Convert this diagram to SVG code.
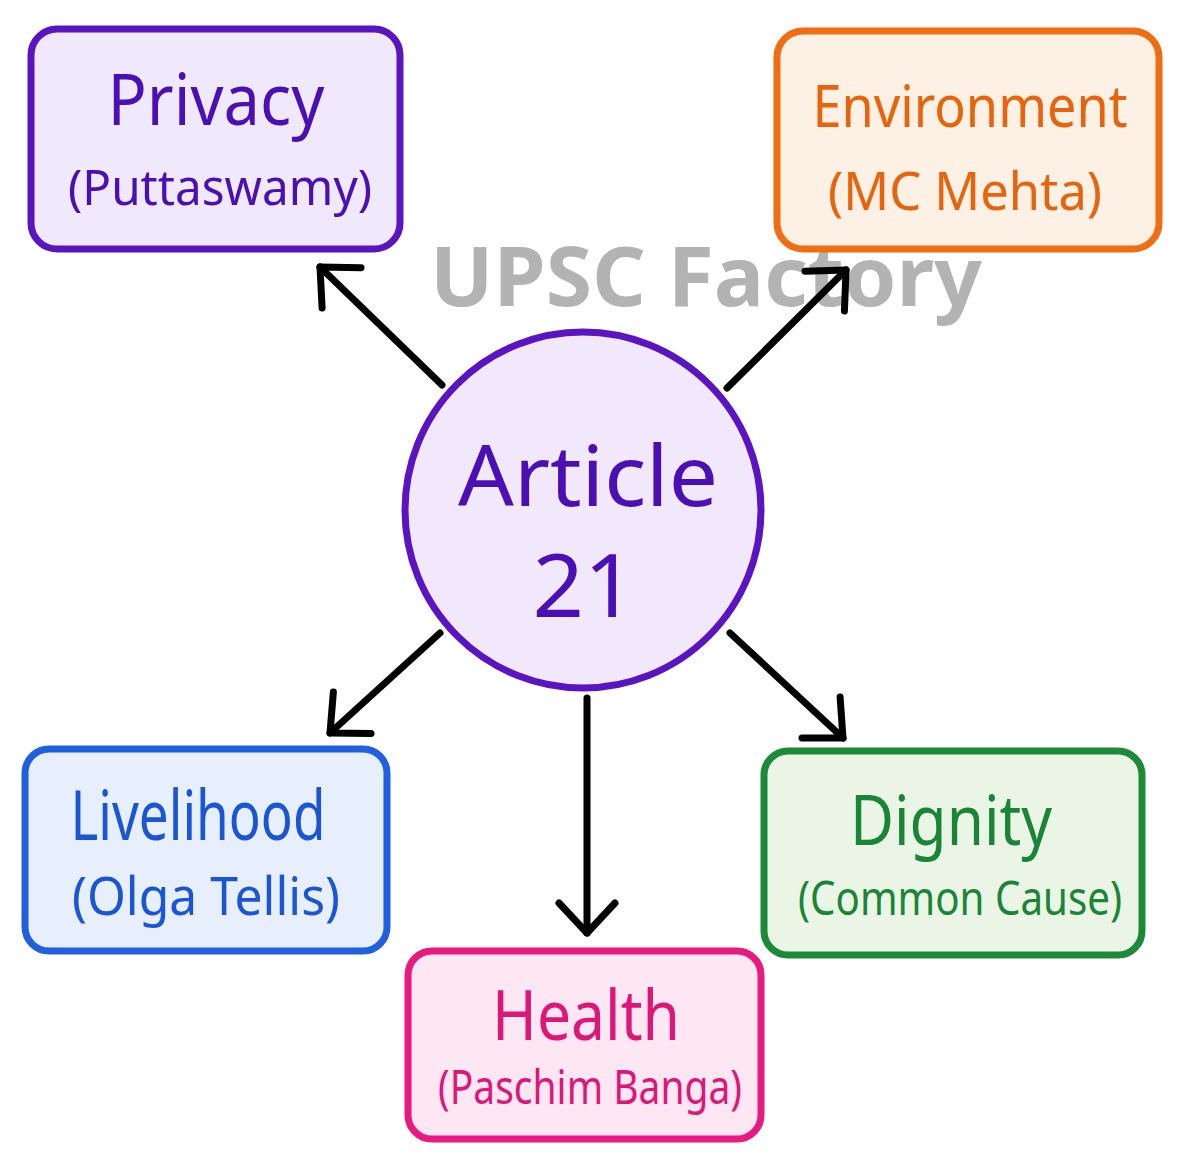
<svg xmlns="http://www.w3.org/2000/svg" width="1185" height="1166" viewBox="0 0 1185 1166">
<style>
.t{font-family:"Noto Sans","Open Sans",sans-serif;text-anchor:middle;}
.box{stroke-width:7;}
.arr{stroke:#000;stroke-width:7;stroke-linecap:round;fill:none;}
</style>
<defs>
<marker id="ah" markerUnits="userSpaceOnUse" markerWidth="80" markerHeight="80" refX="40" refY="40" orient="auto" viewBox="0 0 80 80">
<path d="M10,12 L40,40 L10,68" fill="none" stroke="#000" stroke-width="7" stroke-linecap="round" stroke-linejoin="round"/>
</marker>
</defs>
<rect width="1185" height="1166" fill="#ffffff"/>
<text x="706" y="306" class="t" font-size="82" font-weight="bold" fill="#b3b3b3" textLength="552" lengthAdjust="spacingAndGlyphs">UPSC Factory</text>
<g id="connectors">
<line class="arr" x1="442" y1="385" x2="320" y2="267" marker-end="url(#ah)"/>
<line class="arr" x1="727" y1="388" x2="846" y2="270" marker-end="url(#ah)"/>
<line class="arr" x1="440" y1="633" x2="330" y2="733" marker-end="url(#ah)"/>
<line class="arr" x1="587" y1="698" x2="587" y2="933" marker-end="url(#ah)"/>
<line class="arr" x1="730" y1="633" x2="843" y2="738" marker-end="url(#ah)"/>
</g>
<g id="article21">
<circle cx="583" cy="510" r="178" fill="#f1e8fb" stroke="#5b14c2" stroke-width="7"/>
<text x="588" y="506" class="t" font-size="84" fill="#4a0fb5" textLength="260" lengthAdjust="spacingAndGlyphs">Article</text>
<text x="584" y="617" class="t" font-size="88" fill="#4a0fb5" textLength="103" lengthAdjust="spacingAndGlyphs">21</text>
</g>
<g id="privacy">
<rect class="box" x="31" y="29" width="369" height="220" rx="26" fill="#efe9fb" stroke="#5b14c2"/>
<text x="216" y="125" class="t" font-size="72" fill="#4a0fb5" textLength="217" lengthAdjust="spacingAndGlyphs">Privacy</text>
<text x="220" y="205" class="t" font-size="50" fill="#4a0fb5" textLength="304" lengthAdjust="spacingAndGlyphs">(Puttaswamy)</text>
</g>
<g id="environment">
<rect class="box" x="777" y="31" width="382" height="218" rx="26" fill="#fdf1e6" stroke="#f06d12"/>
<text x="970" y="127" class="t" font-size="58" fill="#e8640c" textLength="315" lengthAdjust="spacingAndGlyphs">Environment</text>
<text x="965" y="210" class="t" font-size="52" fill="#e8640c" textLength="274" lengthAdjust="spacingAndGlyphs">(MC Mehta)</text>
</g>
<g id="livelihood">
<rect class="box" x="25" y="749" width="362" height="202" rx="24" fill="#e6effb" stroke="#1f5fe0"/>
<text x="198" y="840" class="t" font-size="70" fill="#1a55d6" textLength="255" lengthAdjust="spacingAndGlyphs">Livelihood</text>
<text x="206" y="915" class="t" font-size="52" fill="#1a55d6" textLength="268" lengthAdjust="spacingAndGlyphs">(Olga Tellis)</text>
</g>
<g id="health">
<rect class="box" x="408" y="951" width="353" height="188" rx="24" fill="#fde7f2" stroke="#e8197f"/>
<text x="586" y="1040" class="t" font-size="70" fill="#de1678" textLength="188" lengthAdjust="spacingAndGlyphs">Health</text>
<text x="590" y="1104" class="t" font-size="48" fill="#de1678" textLength="304" lengthAdjust="spacingAndGlyphs">(Paschim Banga)</text>
</g>
<g id="dignity">
<rect class="box" x="764" y="751" width="378" height="204" rx="24" fill="#eaf5e6" stroke="#1d8a3a"/>
<text x="951" y="845" class="t" font-size="70" fill="#1a8536" textLength="202" lengthAdjust="spacingAndGlyphs">Dignity</text>
<text x="960" y="915" class="t" font-size="48" fill="#1a8536" textLength="324" lengthAdjust="spacingAndGlyphs">(Common Cause)</text>
</g>
</svg>
